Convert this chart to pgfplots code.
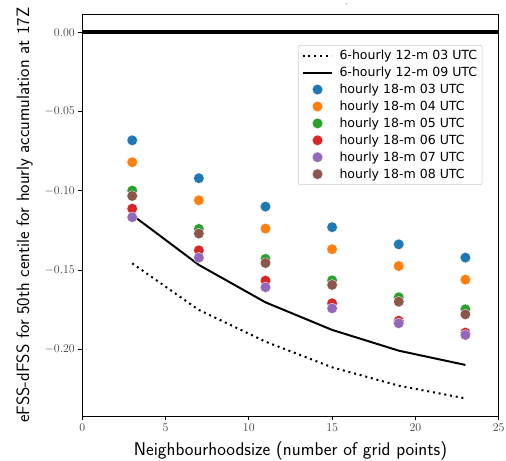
\documentclass[border=0pt]{standalone}
\usepackage{fontspec}
\newfontfamily\legfont{DejaVu Sans}
\usepackage{pgfplots}
\pgfplotsset{compat=1.18}
\definecolor{tabblue}{HTML}{1F77B4}
\definecolor{taborange}{HTML}{FF7F0E}
\definecolor{tabgreen}{HTML}{2CA02C}
\definecolor{tabred}{HTML}{D62728}
\definecolor{tabpurple}{HTML}{9467BD}
\definecolor{tabbrown}{HTML}{8C564B}
\pgfplotsset{
  lineleg/.style={legend image code/.code={\draw[##1] (0bp,0bp) -- (29bp,0bp);}},
  dotleg/.style={legend image code/.code={\draw[##1] plot coordinates {(15bp,0bp)};}},
}
\begin{document}
\begin{tikzpicture}
\path[use as bounding box] (-82.3bp,-44.3bp) rectangle (424bp,416.7bp);
\begin{axis}[
  scale only axis,
  width=416.7bp, height=402.7bp,
  xmin=0, xmax=25, ymin=-0.2424, ymax=0.0115,
  xtick={0,5,10,15,20,25},
  ytick={-0.20,-0.15,-0.10,-0.05,0},
  yticklabel style={/pgf/number format/.cd,fixed,fixed zerofill,precision=2},
  ticklabel style={font=\fontsize{11.5}{13}\selectfont, text=black!75},
  tick align=outside, xtick pos=left, ytick pos=left,
  major tick length=4bp,
  tick style={black, line width=0.8pt},
  axis line style={black, line width=0.8pt},
  xlabel={\sffamily Neighbourhoodsize (number of grid points)},
  ylabel={\sffamily eFSS-dFSS for 50th centile for hourly accumulation at 17Z},
  xlabel style={font=\fontsize{18.5}{20}\selectfont, yshift=-3bp},
  ylabel style={font=\fontsize{18}{20}\selectfont, yshift=5bp},
  legend style={at={(0.961,0.923)}, anchor=north east, font=\legfont\fontsize{12.6}{15}\selectfont,
    draw=black!20, line width=0.6pt, rounded corners=2pt, row sep=1.9bp, inner sep=3bp,
    /tikz/every odd column/.append style={column sep=5bp}},
  legend cell align=left,
  dotleg,
  title={\tiny -}, title style={at={(0.635,1)}, anchor=south, yshift=-1bp},
]
\addplot[black, line width=4pt, forget plot] coordinates {(0,0) (25,0)};
\addplot[black, line width=2pt, dash pattern=on 2bp off 3.8bp, lineleg] coordinates {
(3,-0.1458) (7,-0.1752) (11,-0.1952) (15,-0.2114) (19,-0.2230) (23,-0.2310)};
\addlegendentry{6-hourly 12-m 03 UTC}
\addplot[black, line width=2pt, lineleg] coordinates {
(3,-0.1153) (7,-0.1468) (11,-0.1704) (15,-0.1878) (19,-0.2009) (23,-0.2099)};
\addlegendentry{6-hourly 12-m 09 UTC}
\addplot[only marks, mark=*, mark size=5.3bp, tabblue, mark options={draw=white, line width=0.3pt, fill=tabblue}] coordinates {
(3,-0.0682) (7,-0.0921) (11,-0.1100) (15,-0.1230) (19,-0.1338) (23,-0.1422)};
\addlegendentry{hourly 18-m 03 UTC}
\addplot[only marks, mark=*, mark size=5.3bp, taborange, mark options={draw=white, line width=0.3pt, fill=taborange}] coordinates {
(3,-0.0820) (7,-0.1060) (11,-0.1239) (15,-0.1369) (19,-0.1475) (23,-0.1561)};
\addlegendentry{hourly 18-m 04 UTC}
\addplot[only marks, mark=*, mark size=5.3bp, tabgreen, mark options={draw=white, line width=0.3pt, fill=tabgreen}] coordinates {
(3,-0.0999) (7,-0.1241) (11,-0.1430) (15,-0.1565) (19,-0.1672) (23,-0.1748)};
\addlegendentry{hourly 18-m 05 UTC}
\addplot[only marks, mark=*, mark size=5.3bp, tabred, mark options={draw=white, line width=0.3pt, fill=tabred}] coordinates {
(3,-0.1113) (7,-0.1376) (11,-0.1567) (15,-0.1710) (19,-0.1820) (23,-0.1895)};
\addlegendentry{hourly 18-m 06 UTC}
\addplot[only marks, mark=*, mark size=5.3bp, tabpurple, mark options={draw=white, line width=0.3pt, fill=tabpurple}] coordinates {
(3,-0.1167) (7,-0.1422) (11,-0.1609) (15,-0.1742) (19,-0.1836) (23,-0.1910)};
\addlegendentry{hourly 18-m 07 UTC}
\addplot[only marks, mark=*, mark size=5.3bp, tabbrown, mark options={draw=white, line width=0.3pt, fill=tabbrown}] coordinates {
(3,-0.1033) (7,-0.1270) (11,-0.1456) (15,-0.1594) (19,-0.1700) (23,-0.1780)};
\addlegendentry{hourly 18-m 08 UTC}
\end{axis}
\end{tikzpicture}
\end{document}
